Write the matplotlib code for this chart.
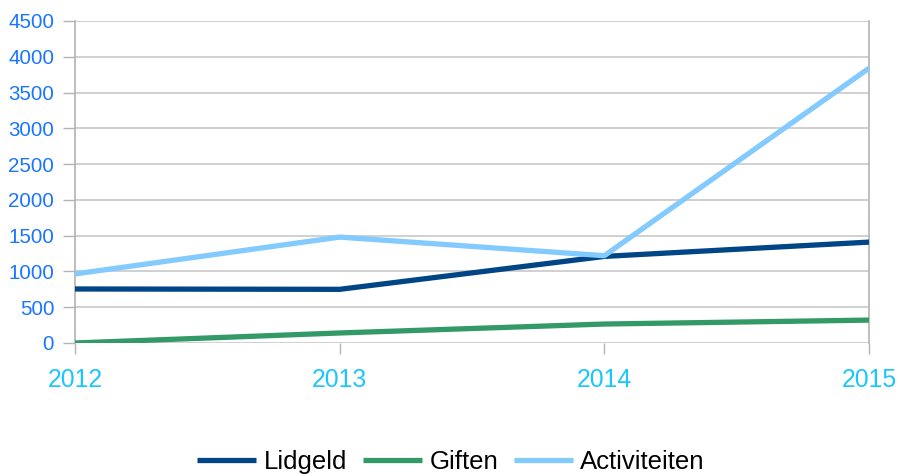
import matplotlib
matplotlib.use("Agg")
import matplotlib.pyplot as plt

years = ["2012", "2013", "2014", "2015"]
lidgeld = [755, 750, 1210, 1410]
giften = [0, 140, 265, 320]
activiteiten = [965, 1480, 1220, 3840]
yticks = [0, 500, 1000, 1500, 2000, 2500, 3000, 3500, 4000, 4500]

plt.rcParams['font.family'] = ['Liberation Sans', 'DejaVu Sans']

fig = plt.figure(figsize=(8.99, 4.74), dpi=100)
ax = fig.add_axes([75/899, 1-343/474, (869-75)/899, (343-21)/474])

x = list(range(len(years)))
lw = 3.8
ax.plot(x, lidgeld, color='#004586', lw=lw, label='Lidgeld', solid_capstyle='butt', zorder=3)
ax.plot(x, giften, color='#339966', lw=lw, label='Giften', solid_capstyle='butt', zorder=3)
ax.plot(x, activiteiten, color='#83caff', lw=lw, label='Activiteiten', solid_capstyle='butt', zorder=3)

ax.set_xlim(0, 3)
ax.set_ylim(0, 4500)
ax.set_yticks(yticks)
ax.set_xticks(x)
ax.set_xticklabels(years)

ax.grid(axis='y', color='#c8c8c8', lw=1.2)
ax.set_axisbelow(True)
for s in ['top', 'bottom']:
    ax.spines[s].set_visible(False)
for s in ['left', 'right']:
    ax.spines[s].set_color('#b3b3b3')
    ax.spines[s].set_linewidth(1.2)

ax.tick_params(axis='y', length=9, width=1, color='#b3b3b3', pad=6,
               labelsize=14.8, labelcolor='#1a75ff')
ax.tick_params(axis='x', length=8, width=1, color='#b3b3b3', pad=10,
               labelsize=17.8, labelcolor='#1ac6ff')

leg = fig.legend(loc='center', bbox_to_anchor=(451/899, 1-462/474), ncol=3,
                 frameon=False, fontsize=18.5, handlelength=2.3,
                 handletextpad=0.3, columnspacing=0.6)
for t in leg.get_texts():
    t.set_color('#000000')

fig.savefig('out.png', dpi=100)
